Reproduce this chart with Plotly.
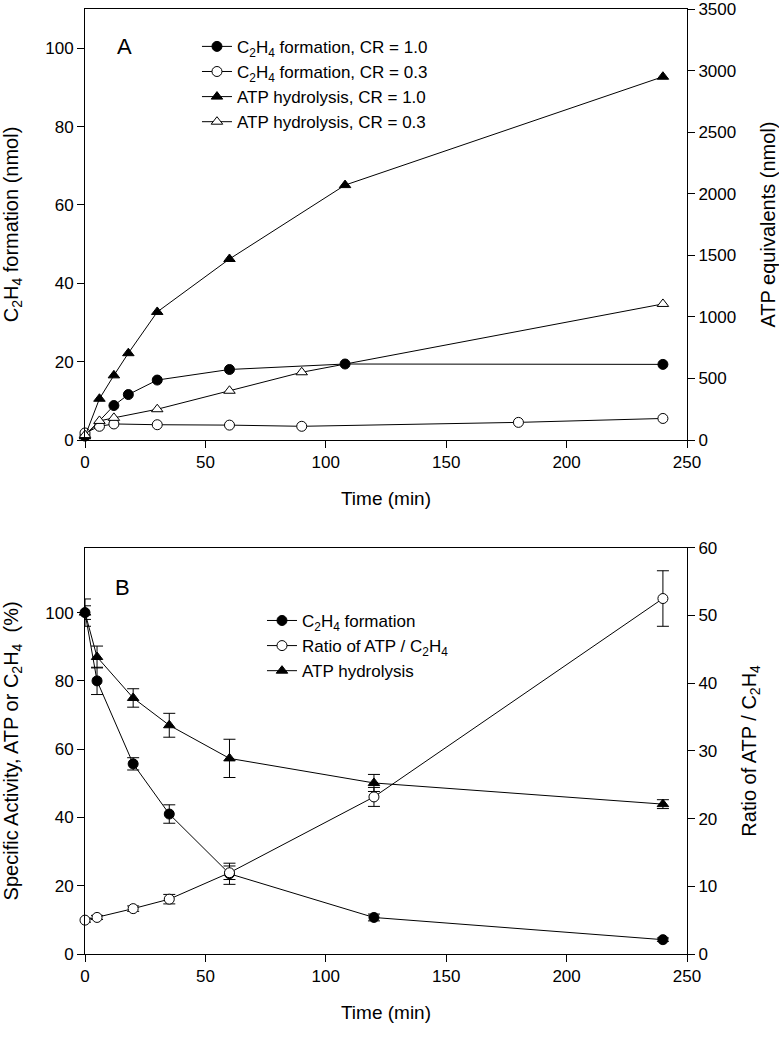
import plotly.graph_objects as go

# ---- panel A: C2H4 formation (nmol) and ATP equivalents (nmol) vs time ----
time_c2h4_cr10 = [0, 12, 18, 30, 60, 108, 240]
c2h4_cr10 = [1.0, 8.8, 11.6, 15.3, 18.0, 19.4, 19.3]

time_c2h4_cr03 = [0, 6, 12, 30, 60, 90, 180, 240]
c2h4_cr03 = [1.8, 3.5, 4.1, 3.9, 3.8, 3.5, 4.5, 5.5]

time_atp_cr10 = [0, 6, 12, 18, 30, 60, 108, 240]
atp_cr10 = [30, 335, 525, 705, 1040, 1470, 2070, 2950]

time_atp_cr03 = [0, 6, 12, 30, 60, 90, 240]
atp_cr03 = [40, 155, 180, 250, 400, 550, 1105]

# ---- panel B: specific activity (%) and ATP/C2H4 ratio vs time ----
time_b = [0, 5, 20, 35, 60, 120, 240]
c2h4_pct = [100, 80, 55.7, 41, 23.5, 10.7, 4.2]
c2h4_pct_err = [2, 4, 1.8, 2.7, 3.1, 1, 0.5]
atp_pct = [100, 87, 75, 67, 57.3, 50.1, 43.9]
atp_pct_err = [4, 3.2, 2.7, 3.5, 5.6, 2.5, 1.3]
ratio = [5.0, 5.4, 6.7, 8.1, 12.0, 23.2, 52.5]
ratio_err = [0.3, 0.3, 0.4, 0.7, 1.0, 1.4, 4.1]

left_ticks = [0, 20, 40, 60, 80, 100]
atp_ticks = [0, 500, 1000, 1500, 2000, 2500, 3000, 3500]
ratio_ticks = [0, 10, 20, 30, 40, 50, 60]

FONT = "Arial, 'Liberation Sans', sans-serif"
BLACK = "black"
LINE = dict(color=BLACK, width=1)


def marker(symbol, filled):
    return dict(symbol=symbol, size=10, color=BLACK if filled else "white",
                line=dict(color=BLACK, width=1))


def err(vals):
    return dict(type="data", array=vals, visible=True, color=BLACK, thickness=1, width=6)


fig = go.Figure()

fig.add_trace(go.Scatter(x=time_c2h4_cr10, y=c2h4_cr10, mode="lines+markers",
    name="C<sub>2</sub>H<sub>4</sub> formation, CR = 1.0", line=LINE,
    marker=marker("circle", True), xaxis="x", yaxis="y", legend="legend", cliponaxis=False))
fig.add_trace(go.Scatter(x=time_c2h4_cr03, y=c2h4_cr03, mode="lines+markers",
    name="C<sub>2</sub>H<sub>4</sub> formation, CR = 0.3", line=LINE,
    marker=marker("circle", False), xaxis="x", yaxis="y", legend="legend", cliponaxis=False))
fig.add_trace(go.Scatter(x=time_atp_cr10, y=atp_cr10, mode="lines+markers",
    name="ATP hydrolysis, CR = 1.0", line=LINE,
    marker=marker("triangle-up", True), xaxis="x", yaxis="y2", legend="legend", cliponaxis=False))
fig.add_trace(go.Scatter(x=time_atp_cr03, y=atp_cr03, mode="lines+markers",
    name="ATP hydrolysis, CR = 0.3", line=LINE,
    marker=marker("triangle-up", False), xaxis="x", yaxis="y2", legend="legend", cliponaxis=False))

fig.add_trace(go.Scatter(x=time_b, y=c2h4_pct, error_y=err(c2h4_pct_err), mode="lines+markers",
    name="C<sub>2</sub>H<sub>4</sub> formation", line=LINE,
    marker=marker("circle", True), xaxis="x2", yaxis="y3", legend="legend2", cliponaxis=False))
fig.add_trace(go.Scatter(x=time_b, y=ratio, error_y=err(ratio_err), mode="lines+markers",
    name="Ratio of ATP / C<sub>2</sub>H<sub>4</sub>", line=LINE,
    marker=marker("circle", False), xaxis="x2", yaxis="y4", legend="legend2", cliponaxis=False))
fig.add_trace(go.Scatter(x=time_b, y=atp_pct, error_y=err(atp_pct_err), mode="lines+markers",
    name="ATP hydrolysis", line=LINE,
    marker=marker("triangle-up", True), xaxis="x2", yaxis="y3", legend="legend2", cliponaxis=False))

axis_common = dict(showline=True, linecolor=BLACK, linewidth=1, ticks="outside", ticklen=7,
                   tickwidth=1, tickcolor=BLACK, showgrid=False, zeroline=False, automargin=False,
                   ticklabeloverflow="allow",
                   tickfont=dict(size=17, color=BLACK, family=FONT))
title_font = dict(size=20, color=BLACK, family=FONT)
xtitle_font = dict(size=19, color=BLACK, family=FONT)

dom_a = [0.5439, 1.0]
dom_b = [0.0, 0.4299]

fig.update_layout(
    width=779, height=1050,
    margin=dict(l=85, r=92, t=9, b=96),
    paper_bgcolor="white", plot_bgcolor="white",
    font=dict(family=FONT, color=BLACK, size=17),
    xaxis=dict(axis_common, domain=[0, 1], anchor="y", range=[0, 250], dtick=50, mirror=True,
               title=dict(text="Time (min)", font=xtitle_font, standoff=20)),
    yaxis=dict(axis_common, domain=dom_a, anchor="x", range=[0, 110], tickvals=left_ticks,
               title=dict(text="C<sub>2</sub>H<sub>4</sub> formation (nmol)", font=title_font, standoff=24)),
    yaxis2=dict(axis_common, overlaying="y", anchor="x", side="right", range=[0, 3500], tickvals=atp_ticks,
                title=dict(text="ATP equivalents (nmol)", font=title_font, standoff=26)),
    xaxis2=dict(axis_common, domain=[0, 1], anchor="y3", range=[0, 250], dtick=50, mirror=True,
                title=dict(text="Time (min)", font=xtitle_font, standoff=20)),
    yaxis3=dict(axis_common, domain=dom_b, anchor="x2", range=[0, 119], tickvals=left_ticks,
                title=dict(text="Specific Activity, ATP or C<sub>2</sub>H<sub>4</sub>  (%)", font=title_font, standoff=25)),
    yaxis4=dict(axis_common, overlaying="y3", anchor="x2", side="right", range=[0, 60], tickvals=ratio_ticks,
                title=dict(text="Ratio of ATP / C<sub>2</sub>H<sub>4</sub>", font=title_font, standoff=25)),
    legend=dict(x=0.186, y=0.979, xanchor="left", yanchor="top", bgcolor="rgba(0,0,0,0)",
                font=dict(size=17, color=BLACK, family=FONT), borderwidth=0),
    legend2=dict(x=0.294, y=0.3715, xanchor="left", yanchor="top", bgcolor="rgba(0,0,0,0)",
                 font=dict(size=17, color=BLACK, family=FONT), borderwidth=0),
    showlegend=True,
    annotations=[
        dict(text="A", x=0.0648, y=0.9608, xref="paper", yref="paper", showarrow=False,
             xanchor="center", yanchor="middle", font=dict(size=22, color=BLACK, family=FONT)),
        dict(text="B", x=0.0631, y=0.3876, xref="paper", yref="paper", showarrow=False,
             xanchor="center", yanchor="middle", font=dict(size=22, color=BLACK, family=FONT)),
    ],
)

fig.write_html("out.html", config={"displayModeBar": False},
               post_script="document.body.style.margin='0px';")
